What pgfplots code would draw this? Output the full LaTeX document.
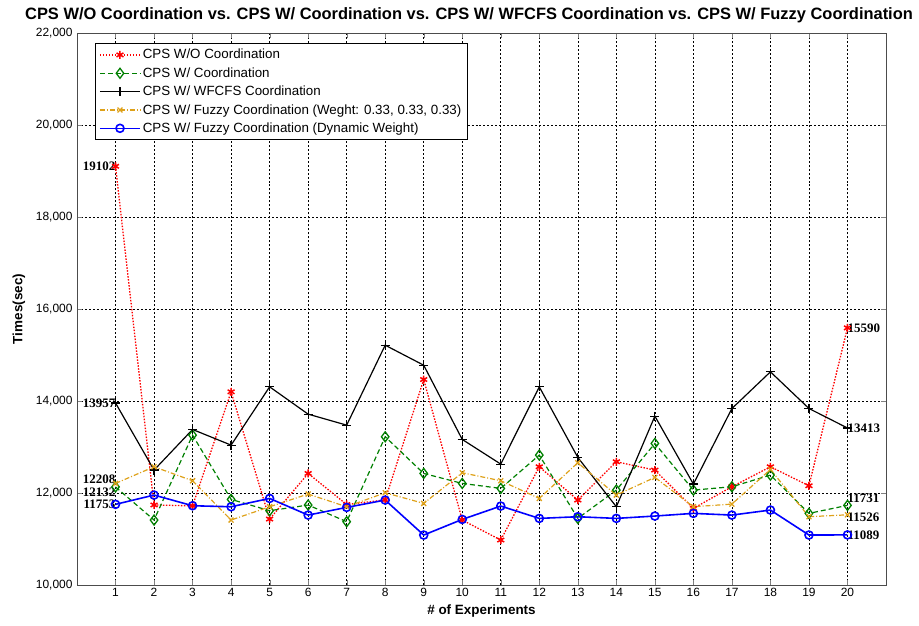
\documentclass[border=0pt]{standalone}
\usepackage{fontspec}
\setmainfont{Liberation Sans}
\newfontfamily\serifb{Liberation Serif}
\usepackage{pgfplots}
\pgfplotsset{compat=1.18}
\definecolor{mgreen}{rgb}{0,0.5,0}
\definecolor{mgold}{rgb}{0.87,0.63,0.1}
\begin{document}
\begin{tikzpicture}
\begin{axis}[
  at={(77bp,41bp)}, anchor=south west,
  scale only axis, width=809bp, height=552bp,
  xmin=0, xmax=21, ymin=10000, ymax=22000,
  xtick={1,...,20}, ytick={10000,12000,...,22000},
  tick align=inside, major tick length=5bp,
  /pgf/number format/assume math mode=true,
  /pgf/number format/1000 sep={,},
  scaled y ticks=false,
  tick label style={font=\fontsize{12}{14}\selectfont},
  yticklabel style={xshift=-1bp},
  grid=major,
  major grid style={black, line width=0.6pt, dash pattern=on 2pt off 2pt},
  axis line style={line width=0.9pt, black!70},
  xlabel={\bfseries \# of Experiments},
  ylabel={\bfseries Times(sec)},
  xlabel style={font=\fontsize{13.5}{15}\selectfont, yshift=-1bp},
  ylabel style={font=\fontsize{13.5}{15}\selectfont, yshift=4bp},
  legend cell align=left,
  legend style={at={(0.022,0.982)}, anchor=north west, draw=black, line width=0.8pt, fill=white,
    font=\fontsize{13.4}{15}\selectfont, row sep=3.2bp, inner sep=4bp},
  legend image code/.code={\draw[mark repeat=2,mark phase=2,#1] plot coordinates {(0bp,0bp)(20bp,0bp)(40bp,0bp)};},
]
\addplot[red, line width=1.3pt, dash pattern=on 1.5pt off 1.5pt, mark=asterisk, mark size=4bp, mark options={solid, line width=1.5pt}] coordinates {
(1,19102)(2,11740)(3,11720)(4,14200)(5,11433)(6,12425)(7,11750)(8,11850)(9,14467)(10,11412)
(11,10977)(12,12570)(13,11846)(14,12679)(15,12498)(16,11665)(17,12136)(18,12570)(19,12157)(20,15590)};
\addlegendentry{CPS W/O Coordination}
\addplot[mgreen, line width=1.2pt, dash pattern=on 5pt off 3pt, mark=diamond, mark size=5bp, mark options={solid, line width=1.3pt}] coordinates {
(1,12132)(2,11412)(3,13258)(4,11861)(5,11615)(6,11738)(7,11376)(8,13222)(9,12425)(10,12208)
(11,12100)(12,12824)(13,11448)(14,12063)(15,13077)(16,12063)(17,12136)(18,12389)(19,11557)(20,11731)};
\addlegendentry{CPS W/ Coordination}
\addplot[black, line width=1.2pt, solid, mark=+, mark size=4.5bp] coordinates {
(1,13957)(2,12498)(3,13381)(4,13041)(5,14308)(6,13714)(7,13475)(8,15213)(9,14778)(10,13164)
(11,12628)(12,14308)(13,12773)(14,11701)(15,13671)(16,12194)(17,13837)(18,14634)(19,13837)(20,13413)};
\addlegendentry{CPS W/ WFCFS Coordination}
\addplot[mgold, line width=1.2pt, dash pattern=on 5pt off 2pt on 1pt off 2pt, mark=x, mark size=3.5bp, mark options={solid, line width=1.3pt}] coordinates {
(1,12208)(2,12570)(3,12266)(4,11412)(5,11701)(6,11977)(7,11701)(8,12005)(9,11774)(10,12440)
(11,12266)(12,11882)(13,12657)(14,11955)(15,12339)(16,11701)(17,11759)(18,12512)(19,11484)(20,11526)};
\addlegendentry{CPS W/ Fuzzy Coordination (Weght: 0.33, 0.33, 0.33)}
\addplot[blue, line width=1.6pt, solid, mark=o, mark size=4bp] coordinates {
(1,11753)(2,11955)(3,11723)(4,11701)(5,11882)(6,11520)(7,11687)(8,11846)(9,11086)(10,11426)
(11,11716)(12,11448)(13,11484)(14,11448)(15,11499)(16,11557)(17,11520)(18,11629)(19,11086)(20,11089)};
\addlegendentry{CPS W/ Fuzzy Coordination (Dynamic Weight)}
\begin{scope}[every node/.style={font=\serifb\bfseries\fontsize{13}{14}\selectfont, inner sep=0pt}]
\node[anchor=east] at (axis cs:1,19102) {19102};
\node[anchor=east] at (axis cs:1,13957) {13957};
\node[anchor=east] at (axis cs:1,12290) {12208};
\node[anchor=east] at (axis cs:1,12025) {12132};
\node[anchor=east] at (axis cs:1,11760) {11753};
\node[anchor=west] at (axis cs:20,15590) {15590};
\node[anchor=west] at (axis cs:20,13413) {13413};
\node[anchor=west] at (axis cs:20,11880) {11731};
\node[anchor=west] at (axis cs:20,11480) {11526};
\node[anchor=west] at (axis cs:20,11089) {11089};
\end{scope}
\end{axis}
\node[font=\bfseries\fontsize{16.5}{18}\selectfont] at (469bp,611bp) {CPS W/O Coordination vs. CPS W/ Coordination vs. CPS W/ WFCFS Coordination vs. CPS W/ Fuzzy Coordination};
\pgfresetboundingbox
\path[use as bounding box] (0,0) rectangle (919bp,626bp);
\end{tikzpicture}
\end{document}
